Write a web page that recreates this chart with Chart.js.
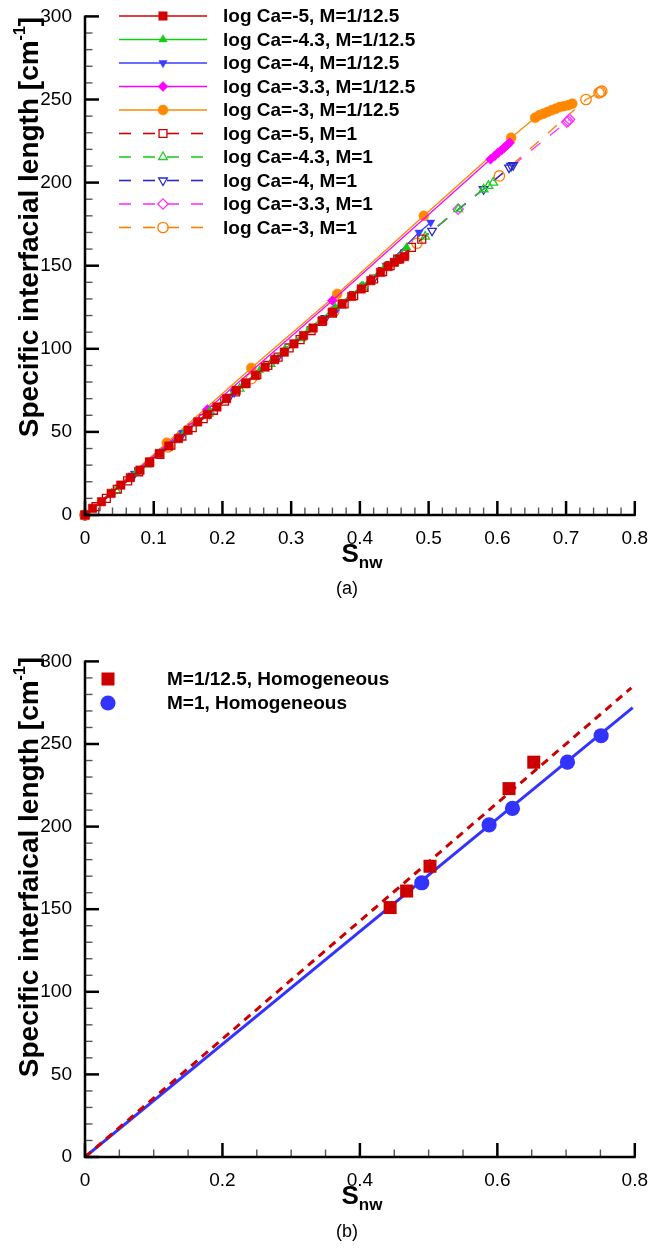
<!DOCTYPE html>
<html>
<head>
<meta charset="utf-8">
<script src="https://cdn.jsdelivr.net/npm/chart.js@4.4.1/dist/chart.umd.min.js"></script>
<style>
  body { margin: 0; background: #fff; }
  #page { position: relative; width: 652px; height: 1248px; font-family: "Liberation Sans", Arial, Helvetica, sans-serif; }
  canvas { position: absolute; left: 0; }
  #chartA { top: 0; }
  #chartB { top: 645px; }
  .caption { position: absolute; left: 347px; transform: translateX(-50%); font-size: 18px; color: #000; }
</style>
</head>
<body>
<div id="page">
  <canvas id="chartA" width="652" height="580" style="width:652px;height:580px"></canvas>
  <div class="caption" style="top:578px">(a)</div>
  <canvas id="chartB" width="652" height="580" style="width:652px;height:580px"></canvas>
  <div class="caption" style="top:1221px">(b)</div>
</div>
<script>
// ---- (a) saturation vs specific interfacial length, M = 1/12.5 (solid) ----
const snwCa5M125 = [0, 0.011, 0.024, 0.038, 0.052, 0.066, 0.080, 0.094, 0.108, 0.122, 0.136, 0.150, 0.164, 0.178, 0.192, 0.206, 0.220, 0.234, 0.248, 0.262, 0.276, 0.290, 0.304, 0.318, 0.332, 0.346, 0.360, 0.374, 0.388, 0.402, 0.416, 0.430, 0.441, 0.450, 0.458, 0.465];
const lenCa5M125 = [0, 4, 8, 13, 18, 22.5, 27, 32, 37, 41.5, 46, 51, 56, 60.5, 65, 70, 75, 79.5, 84, 89, 93.5, 98, 103, 108, 112.5, 117, 122, 127, 131.5, 136, 141, 146, 149.5, 152, 154, 155.5];

const snwCa43M125 = [0, 0.039, 0.074, 0.109, 0.145, 0.181, 0.218, 0.254, 0.291, 0.327, 0.364, 0.403, 0.437, 0.468];
const lenCa43M125 = [0, 13.5, 25.5, 37.5, 50, 62.5, 75, 87, 100, 112.5, 125, 138, 150, 161];

const snwCa4M125 = [0, 0.072, 0.142, 0.217, 0.291, 0.365, 0.438, 0.486, 0.503];
const lenCa4M125 = [0, 25, 49.5, 73.5, 98.5, 123, 150, 170, 176];

const snwCa33M125 = [0, 0.178, 0.360, 0.590, 0.596, 0.601, 0.606, 0.610, 0.614, 0.618];
const lenCa33M125 = [0, 63.5, 129, 214, 216, 218, 219.5, 221, 222.5, 224];

const snwCa3M125 = [0, 0.119, 0.242, 0.367, 0.493, 0.620, 0.655, 0.661, 0.667, 0.673, 0.679, 0.685, 0.691, 0.697, 0.703, 0.709];
const lenCa3M125 = [0, 43.5, 88.5, 133, 180, 227, 239, 240.5, 241.5, 242.5, 243.5, 244.5, 245.5, 246, 246.5, 247.5];

// ---- (a) M = 1 (dashed) ----
const snwCa5M1 = [0, 0.016, 0.031, 0.047, 0.062, 0.078, 0.094, 0.109, 0.125, 0.141, 0.156, 0.172, 0.187, 0.203, 0.219, 0.234, 0.250, 0.266, 0.281, 0.297, 0.313, 0.329, 0.345, 0.360, 0.377, 0.391, 0.406, 0.420, 0.433, 0.444, 0.455, 0.465, 0.475, 0.490];
const lenCa5M1 = [0, 5, 10, 15.5, 20.5, 26, 31.5, 36.5, 42, 47.5, 52.5, 58, 63, 68.5, 74, 79, 84.5, 90, 95, 100.5, 105.5, 111, 116.5, 121.5, 127, 132, 137, 142, 146.5, 150, 154, 157, 161, 166];

const snwCa43M1 = [0, 0.045, 0.090, 0.135, 0.180, 0.225, 0.270, 0.315, 0.360, 0.405, 0.450, 0.495, 0.543, 0.580, 0.587, 0.594];
const lenCa43M1 = [0, 15, 30.5, 45.5, 61, 76, 91, 106.5, 121.5, 137, 152, 167.5, 184, 196, 198, 200];

const snwCa4M1 = [0, 0.070, 0.140, 0.210, 0.280, 0.350, 0.420, 0.505, 0.580, 0.617, 0.620, 0.623];
const lenCa4M1 = [0, 23.5, 47.5, 71, 94.5, 118.5, 142, 171, 196, 209, 210, 210.5];

const snwCa33M1 = [0, 0.181, 0.362, 0.543, 0.701, 0.703, 0.705];
const lenCa33M1 = [0, 61, 123, 184, 236.5, 237, 238];

const snwCa3M1 = [0, 0.121, 0.242, 0.362, 0.483, 0.603, 0.729, 0.748, 0.750, 0.752];
const lenCa3M1 = [0, 41, 82, 122.5, 163.5, 204, 250, 254, 254.5, 255];

// ---- (b) homogeneous breakthrough points and linear fits ----
const snwHomM125 = [0.444, 0.468, 0.502, 0.617, 0.653];
const lenHomM125 = [151, 161, 176, 223, 239];
const snwHomM1 = [0.490, 0.588, 0.622, 0.702, 0.751];
const lenHomM1 = [166, 201, 211, 239, 255];
const snwFitM125 = [0, 0.795];
const lenFitM125 = [0, 284];
const snwFitM1 = [0, 0.797];
const lenFitM1 = [0, 272];

const FONT = '"Liberation Sans", Arial, Helvetica, sans-serif';

function pairs(xs, ys) {
    return xs.map((x, i) => ({ x: x, y: ys[i] }));
}

function series(label, xs, ys, color, marker, open, dashed, radius, rotation) {
    return {
        label: label,
        data: pairs(xs, ys),
        showLine: true,
        borderColor: color,
        borderWidth: 1.3,
        borderDash: dashed ? [12, 12] : [],
        pointStyle: marker,
        pointRotation: rotation || 0,
        pointRadius: radius,
        pointBackgroundColor: open ? 'rgba(0,0,0,0)' : color,
        pointBorderColor: color,
        pointBorderWidth: open ? 1.3 : 0.5,
        fill: false,
        tension: 0,
        clip: false
    };
}

// left/bottom axis lines with tick marks pointing into the plot
function makeFrame(cfg) {
    return {
        id: 'frame',
        afterDraw(chart) {
            const ctx = chart.ctx;
            const area = chart.chartArea;
            const xs = chart.scales.x;
            const ys = chart.scales.y;
            ctx.save();
            ctx.lineCap = 'butt';

            let n = Math.round((xs.max - xs.min) / cfg.xMinor);
            for (let k = 0; k <= n; k++) {
                const major = k % cfg.xEvery === 0;
                const p = xs.getPixelForValue(xs.min + k * cfg.xMinor);
                ctx.lineWidth = major ? 2.5 : 1.4;
                ctx.strokeStyle = major ? '#000' : '#555';
                ctx.beginPath();
                ctx.moveTo(p, area.bottom);
                ctx.lineTo(p, area.bottom - (major ? 14 : 7.5));
                ctx.stroke();
            }
            n = Math.round((ys.max - ys.min) / cfg.yMinor);
            for (let k = 0; k <= n; k++) {
                const major = k % cfg.yEvery === 0;
                const p = ys.getPixelForValue(ys.min + k * cfg.yMinor);
                ctx.lineWidth = major ? 2.5 : 1.4;
                ctx.strokeStyle = major ? '#000' : '#555';
                ctx.beginPath();
                ctx.moveTo(area.left, p);
                ctx.lineTo(area.left + (major ? 14 : 7.5), p);
                ctx.stroke();
            }

            ctx.strokeStyle = '#000';
            ctx.lineWidth = 2.5;
            ctx.beginPath();
            ctx.moveTo(area.left, area.top - 1);
            ctx.lineTo(area.left, area.bottom);
            ctx.lineTo(area.right + 1, area.bottom);
            ctx.stroke();
            ctx.restore();
        }
    };
}

// axis titles with sub/superscripts
const axisText = {
    id: 'axisText',
    afterDraw(chart, args, o) {
        const ctx = chart.ctx;
        const area = chart.chartArea;
        const big = 'bold 28px ' + FONT;
        const small = 'bold 16px ' + FONT;
        ctx.save();
        ctx.fillStyle = '#000';
        ctx.textAlign = 'left';
        ctx.textBaseline = 'alphabetic';

        ctx.translate(o.yTitleX, o.yTitleY);
        ctx.rotate(-Math.PI / 2);
        ctx.font = big;
        const w1 = ctx.measureText(o.yTitle).width;
        const w3 = ctx.measureText(']').width;
        ctx.font = small;
        const w2 = ctx.measureText('-1').width;
        let x = -(w1 + w2 + w3) / 2;
        ctx.font = big;
        ctx.fillText(o.yTitle, x, 10);
        x += w1;
        ctx.font = small;
        ctx.fillText('-1', x, -3);
        x += w2;
        ctx.font = big;
        ctx.fillText(']', x, 10);
        ctx.setTransform(1, 0, 0, 1, 0, 0);

        const sub = 'bold 17px ' + FONT;
        ctx.font = 'bold 26px ' + FONT;
        const ws = ctx.measureText('S').width;
        ctx.font = sub;
        const wn = ctx.measureText('nw').width;
        const sx = o.xTitleX - (ws + wn) / 2;
        const base = area.bottom + 47;
        ctx.font = 'bold 26px ' + FONT;
        ctx.fillText('S', sx, base);
        ctx.font = sub;
        ctx.fillText('nw', sx + ws, base + 6);
        ctx.restore();
    }
};

// line + marker + label rows
const seriesKey = {
    id: 'seriesKey',
    afterDraw(chart, args, o) {
        const ctx = chart.ctx;
        ctx.save();
        chart.data.datasets.forEach((ds, i) => {
            const row = o.rows.indexOf(i);
            if (row < 0) return;
            const y = o.y0 + row * o.dy;
            if (o.showLine) {
                ctx.strokeStyle = ds.borderColor;
                ctx.lineWidth = 1.6;
                ctx.setLineDash(ds.borderDash || []);
                ctx.beginPath();
                ctx.moveTo(o.x0, y);
                ctx.lineTo(o.x1, y);
                ctx.stroke();
                ctx.setLineDash([]);
            }
            ctx.fillStyle = ds.pointBackgroundColor;
            ctx.strokeStyle = ds.pointBorderColor;
            ctx.lineWidth = ds.pointBorderWidth;
            Chart.helpers.drawPoint(ctx, {
                pointStyle: ds.pointStyle,
                rotation: ds.pointRotation,
                radius: ds.pointRadius,
                borderWidth: ds.pointBorderWidth
            }, o.xm, y);
            ctx.fillStyle = '#000';
            ctx.font = 'bold 19px ' + FONT;
            ctx.textAlign = 'left';
            ctx.textBaseline = 'middle';
            ctx.fillText(ds.label, o.xt, y + 1);
        });
        ctx.restore();
    }
};

function axes(bottom, xStep) {
    const tickFont = { family: FONT, size: 19 };
    return {
        x: {
            type: 'linear', min: 0, max: 0.8,
            ticks: { stepSize: xStep, color: '#000', font: tickFont, padding: 4, maxRotation: 0, autoSkip: false },
            grid: { display: false },
            border: { display: false },
            afterFit: s => { s.height = 580 - bottom; }
        },
        y: {
            type: 'linear', min: 0, max: 300,
            ticks: { stepSize: 50, color: '#000', font: tickFont, padding: 5, autoSkip: false },
            grid: { display: false },
            border: { display: false },
            afterFit: s => { s.width = 85; }
        }
    };
}

const RED = '#d40000', GREEN = '#14cc14', BLUE = '#3b3bff', MAG = '#ff00ff', ORANGE = '#ff8800';
const RED_D = '#cc0000', GREEN_D = '#22cc22', BLUE_D = '#2a2ac8', MAG_D = '#ff33ff', ORANGE_D = '#ff8000';

new Chart('chartA', {
    type: 'scatter',
    data: {
        datasets: [
            series('log Ca=-5, M=1/12.5', snwCa5M125, lenCa5M125, RED, 'rect', false, false, 6),
            series('log Ca=-4.3, M=1/12.5', snwCa43M125, lenCa43M125, GREEN, 'triangle', false, false, 4.8),
            series('log Ca=-4, M=1/12.5', snwCa4M125, lenCa4M125, BLUE, 'triangle', false, false, 4.8, 180),
            series('log Ca=-3.3, M=1/12.5', snwCa33M125, lenCa33M125, MAG, 'rectRot', false, false, 5),
            series('log Ca=-3, M=1/12.5', snwCa3M125, lenCa3M125, ORANGE, 'circle', false, false, 5),
            series('log Ca=-5, M=1', snwCa5M1, lenCa5M1, RED_D, 'rect', true, true, 5.6),
            series('log Ca=-4.3, M=1', snwCa43M1, lenCa43M1, GREEN_D, 'triangle', true, true, 5),
            series('log Ca=-4, M=1', snwCa4M1, lenCa4M1, BLUE_D, 'triangle', true, true, 5, 180),
            series('log Ca=-3.3, M=1', snwCa33M1, lenCa33M1, MAG_D, 'rectRot', true, true, 5.2),
            series('log Ca=-3, M=1', snwCa3M1, lenCa3M1, ORANGE_D, 'circle', true, true, 5.2)
        ]
    },
    options: {
        responsive: false,
        animation: false,
        layout: { padding: { top: 13, right: 15, left: 0, bottom: 0 } },
        scales: axes(515, 0.1),
        plugins: {
            legend: { display: false },
            tooltip: { enabled: false },
            axisText: { yTitle: 'Specific interfacial length [cm', yTitleX: 28, yTitleY: 227, xTitleX: 362 },
            seriesKey: { rows: [0, 1, 2, 3, 4, 5, 6, 7, 8, 9], showLine: true, x0: 119, x1: 207, xm: 163, xt: 223, y0: 16, dy: 23.5 }
        }
    },
    plugins: [makeFrame({ xMinor: 0.02, xEvery: 5, yMinor: 10, yEvery: 5 }), axisText, seriesKey]
});

new Chart('chartB', {
    type: 'scatter',
    data: {
        datasets: [
            {
                label: 'M=1/12.5, Homogeneous',
                data: pairs(snwHomM125, lenHomM125),
                showLine: false,
                pointStyle: 'rect',
                pointRadius: 9.2,
                pointBackgroundColor: '#cc0000',
                pointBorderColor: '#cc0000',
                pointBorderWidth: 0,
                clip: false
            },
            {
                label: 'M=1, Homogeneous',
                data: pairs(snwHomM1, lenHomM1),
                showLine: false,
                pointStyle: 'circle',
                pointRadius: 7.6,
                pointBackgroundColor: '#3333ff',
                pointBorderColor: '#3333ff',
                pointBorderWidth: 0,
                clip: false
            },
            {
                label: 'fit M=1/12.5',
                data: pairs(snwFitM125, lenFitM125),
                showLine: true,
                borderColor: '#cc0000',
                borderWidth: 3,
                borderDash: [8, 6],
                pointRadius: 0,
                fill: false
            },
            {
                label: 'fit M=1',
                data: pairs(snwFitM1, lenFitM1),
                showLine: true,
                borderColor: '#3333ff',
                borderWidth: 3,
                pointRadius: 0,
                fill: false
            }
        ]
    },
    options: {
        responsive: false,
        animation: false,
        layout: { padding: { top: 13, right: 15, left: 0, bottom: 0 } },
        scales: axes(512, 0.2),
        plugins: {
            legend: { display: false },
            tooltip: { enabled: false },
            axisText: { yTitle: 'Specific interfaical length [cm', yTitleX: 28, yTitleY: 222, xTitleX: 362 },
            seriesKey: { rows: [0, 1], showLine: false, x0: 0, x1: 0, xm: 108, xt: 167, y0: 34, dy: 24 }
        }
    },
    plugins: [makeFrame({ xMinor: 0.05, xEvery: 4, yMinor: 10, yEvery: 5 }), axisText, seriesKey]
});
</script>
</body>
</html>
